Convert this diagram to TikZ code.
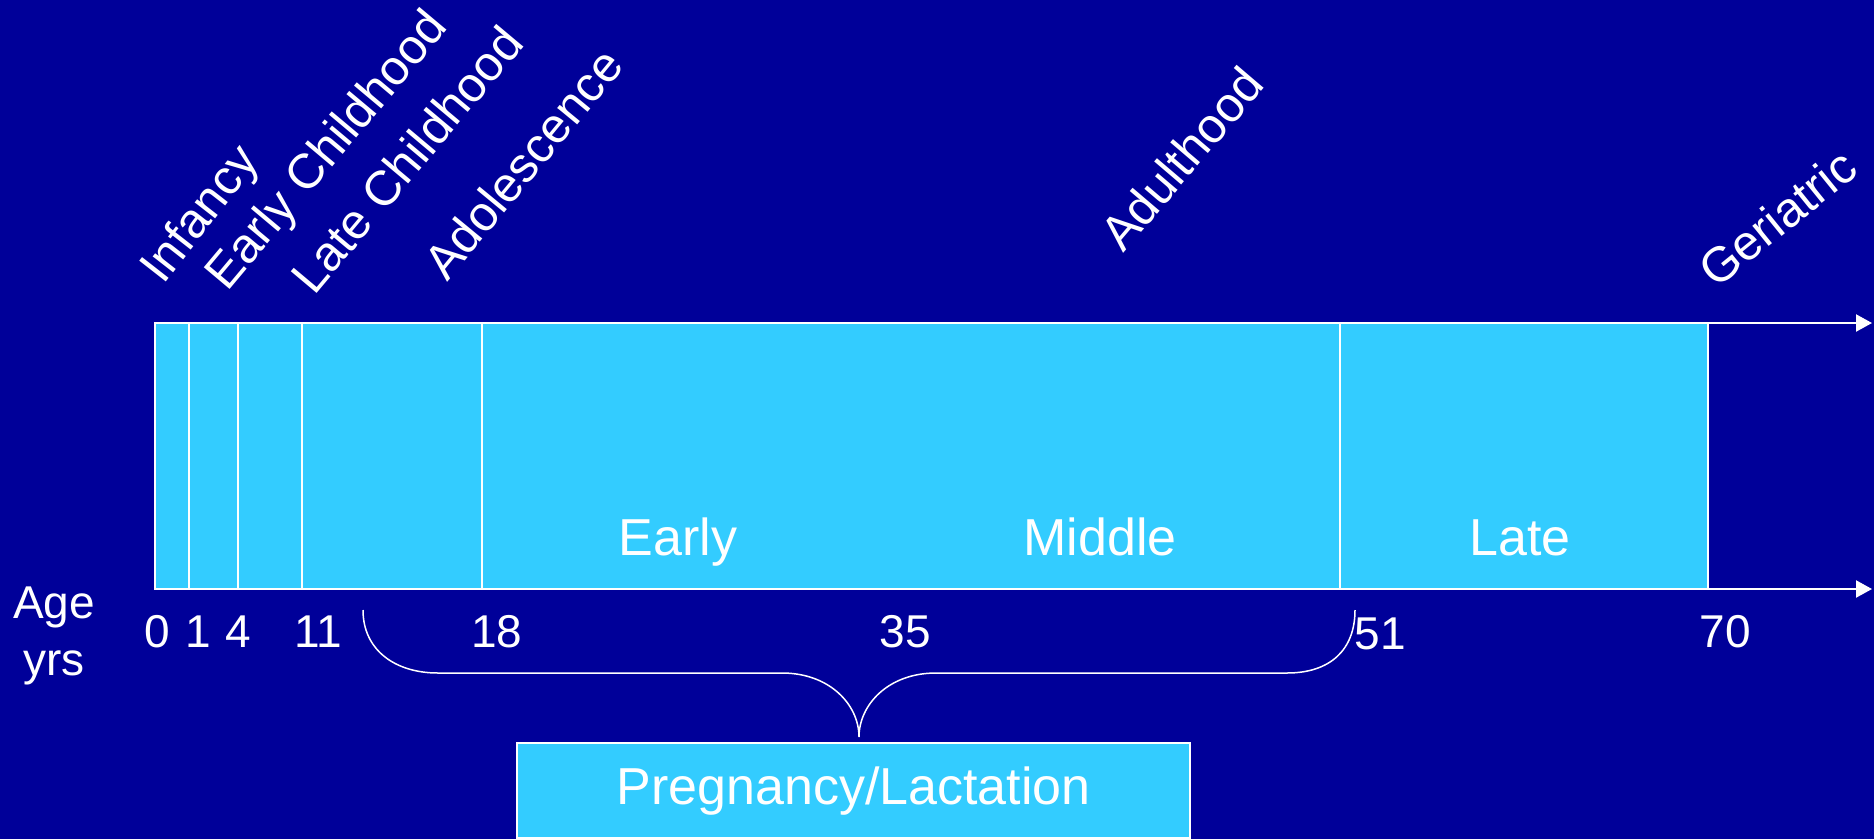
\documentclass[tikz,border=0pt]{standalone}
\usepackage{fontspec}
\setmainfont{Liberation Sans}
\usetikzlibrary{arrows.meta}
\definecolor{bgblue}{RGB}{0,0,153}
\definecolor{cyanbox}{RGB}{51,204,255}
\begin{document}
\begin{tikzpicture}[x=1pt,y=-1pt,
  wline/.style={draw=white,line width=2pt},
  axisarrow/.style={draw=white,line width=2.2pt,-{Triangle[length=16pt,width=17pt]}},
  phase/.style={text=white,inner sep=0pt,anchor=base west,font=\fontsize{49}{57}\selectfont},
  agenum/.style={text=white,inner sep=0pt,anchor=base,font=\fontsize{46}{54}\selectfont},
  sublab/.style={text=white,inner sep=0pt,anchor=base,font=\fontsize{52}{60}\selectfont},
  pregbox/.style={fill=cyanbox,draw=white,line width=1.5pt,minimum width=673pt,minimum height=95pt,anchor=north,inner sep=0pt}
]
\fill[bgblue] (0,0) rectangle (1874,839);
\useasboundingbox (0,0) rectangle (1874,839);

% timeline bar
\fill[cyanbox] (155,323) rectangle (1708,589);
\foreach \xx in {155,189,238,302,482,1340,1708}
  \draw[wline] (\xx,323) -- (\xx,589);
\coordinate (topstart) at (154,323);
\coordinate (topend) at (1872,323);
\coordinate (botstart) at (154,589);
\coordinate (botend) at (1872,589);
\draw[axisarrow] (topstart) -- (topend);
\draw[axisarrow] (botstart) -- (botend);

% rotated phase labels
\node[phase,rotate=52] (infancy) at (163,286) {Infancy};
\node[phase,rotate=50] (earlyc) at (227,293) {Early Childhood};
\node[phase,rotate=50] (latec) at (314,297) {Late Childhood};
\node[phase,rotate=50.5] (adol) at (447,283) {Adolescence};
\node[phase,rotate=49.5] (adult) at (1123,254) {Adulthood};
\node[phase,rotate=39] (geri) at (1716,290) {Geriatric};

% sub labels in the bar
\node[sublab] (early) at (678,555) {Early};
\node[sublab] (middle) at (1100,555) {Middle};
\node[sublab] (late) at (1520,555) {Late};

% ages
\node[agenum] (agel) at (54,618) {Age};
\node[agenum] (yrsl) at (54,675) {yrs};
\node[agenum] (a0) at (157,647) {0};
\node[agenum] (a1) at (198,647) {1};
\node[agenum] (a4) at (238,647) {4};
\node[agenum] (a11) at (318,647) {11};
\node[agenum] (a18) at (497,647) {18};
\node[agenum] (a35) at (905,647) {35};
\node[agenum] (a51) at (1380,649) {51};
\node[agenum] (a70) at (1725,647) {70};

% pregnancy box and brace
\node[pregbox] (preg) at (853.5,742) {};
\node[sublab] (pregtext) at (853.5,804) {Pregnancy/Lactation};
\coordinate (bl) at (363,610);
\coordinate (br) at (1355,610);
\coordinate (tip) at (859,737);
\draw[draw=white,line width=1.5pt]
  (bl) .. controls (363,650) and (395,673) .. (438,673) -- (782,673)
  .. controls (830,673) and (859,705) .. (tip)
  .. controls (859,705) and (888,673) .. (936,673) -- (1287,673)
  .. controls (1330,673) and (1355,650) .. (br);
\end{tikzpicture}
\end{document}
